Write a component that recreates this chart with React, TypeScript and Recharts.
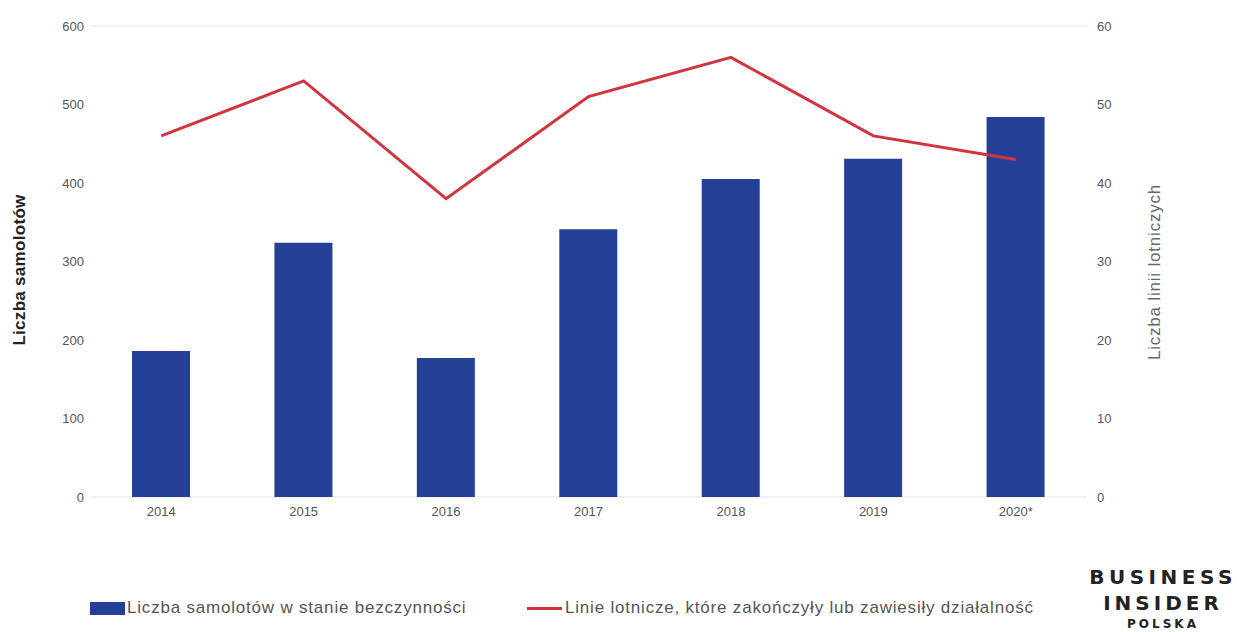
import React from 'react';
import { ComposedChart, Bar, Line, XAxis, YAxis, CartesianGrid, Legend } from 'recharts';

// data
const years = ['2014', '2015', '2016', '2017', '2018', '2019', '2020*'];
const idlePlanes = [186, 324, 177, 341, 405, 431, 484];
const airlinesClosed = [46, 53, 38, 51, 56, 46, 43];
const leftTicks = [0, 100, 200, 300, 400, 500, 600];
const rightTicks = [0, 10, 20, 30, 40, 50, 60];

const BAR_NAME = 'Liczba samolotów w stanie bezczynności';
const LINE_NAME = 'Linie lotnicze, które zakończyły lub zawiesiły działalność';

const data = years.map((y, i) => ({ year: y, planes: idlePlanes[i], airlines: airlinesClosed[i] }));

const FONT = '"Liberation Sans", Arial, sans-serif';
const BLUE = '#233f96';
const RED = '#d1333f';
const TICK = { fill: '#555', fontSize: 13, fontFamily: FONT };

const LeftLabel = () => (
    <text x={21} y={270} transform="rotate(-90, 21, 270)" textAnchor="middle" dominantBaseline="middle"
        fontFamily={FONT} fontSize={17} fontWeight="bold" fill="#222" letterSpacing={0.3}>
        Liczba samolotów
    </text>
);

const RightLabel = () => (
    <text x={1156} y={272} transform="rotate(-90, 1156, 272)" textAnchor="middle" dominantBaseline="middle"
        fontFamily={FONT} fontSize={17} fill="#666" letterSpacing={0.8}>
        Liczba linii lotniczych
    </text>
);

const LegendRenderer = () => (
    <div style={{ position: 'relative', height: 24, fontFamily: FONT, fontSize: 17, letterSpacing: 0.8, color: '#555' }}>
        <div style={{ position: 'absolute', left: 90, top: 2, display: 'flex', alignItems: 'center' }}>
            <span style={{ width: 35, height: 13, background: BLUE, display: 'inline-block', marginRight: 2 }} />
            <span>{BAR_NAME}</span>
        </div>
        <div style={{ position: 'absolute', left: 527, top: 2, display: 'flex', alignItems: 'center' }}>
            <span style={{ width: 35, height: 3, background: RED, display: 'inline-block', marginRight: 3 }} />
            <span>{LINE_NAME}</span>
        </div>
    </div>
);

export default function App() {
    return (
        <div style={{ position: 'fixed', left: 0, top: 0, width: 1237, height: 632, background: '#fff', overflow: 'hidden' }}>
            <ComposedChart width={1237} height={632} data={data}
                margin={{ top: 26, right: 130, left: 0, bottom: 81 }} barCategoryGap="20%">
                <CartesianGrid vertical={false} stroke="#e3e3e3" />
                <XAxis dataKey="year" axisLine={false} tickLine={false} tick={TICK} height={30} tickMargin={4} />
                <YAxis yAxisId="left" width={90} domain={[0, 600]} ticks={leftTicks} axisLine={false} tickLine={false}
                    tick={TICK} tickSize={0} tickMargin={6} label={{ content: LeftLabel }} />
                <YAxis yAxisId="right" orientation="right" width={20} domain={[0, 60]} ticks={rightTicks}
                    axisLine={false} tickLine={false} tick={TICK} tickSize={0} tickMargin={10}
                    label={{ content: RightLabel }} />
                <Bar yAxisId="left" dataKey="planes" name={BAR_NAME} fill={BLUE} barSize={58} isAnimationActive={false} />
                <Line yAxisId="right" dataKey="airlines" name={LINE_NAME} stroke={RED} strokeWidth={3}
                    type="linear" dot={false} activeDot={false} isAnimationActive={false} />
                <Legend content={LegendRenderer} verticalAlign="bottom"
                    wrapperStyle={{ left: 0, width: 1237, bottom: 12 }} />
            </ComposedChart>
            <div style={{ position: 'absolute', left: 1088, top: 567, width: 150, textAlign: 'center', fontFamily: '"DejaVu Sans", sans-serif', fontWeight: 'bold', color: '#222', lineHeight: 1 }}>
                <div style={{ fontSize: 20, letterSpacing: 4.5 }}>BUSINESS</div>
                <div style={{ fontSize: 20, letterSpacing: 4, marginTop: 6 }}>INSIDER</div>
                <div style={{ fontSize: 12, letterSpacing: 3, marginTop: 5 }}>POLSKA</div>
            </div>
        </div>
    );
}
